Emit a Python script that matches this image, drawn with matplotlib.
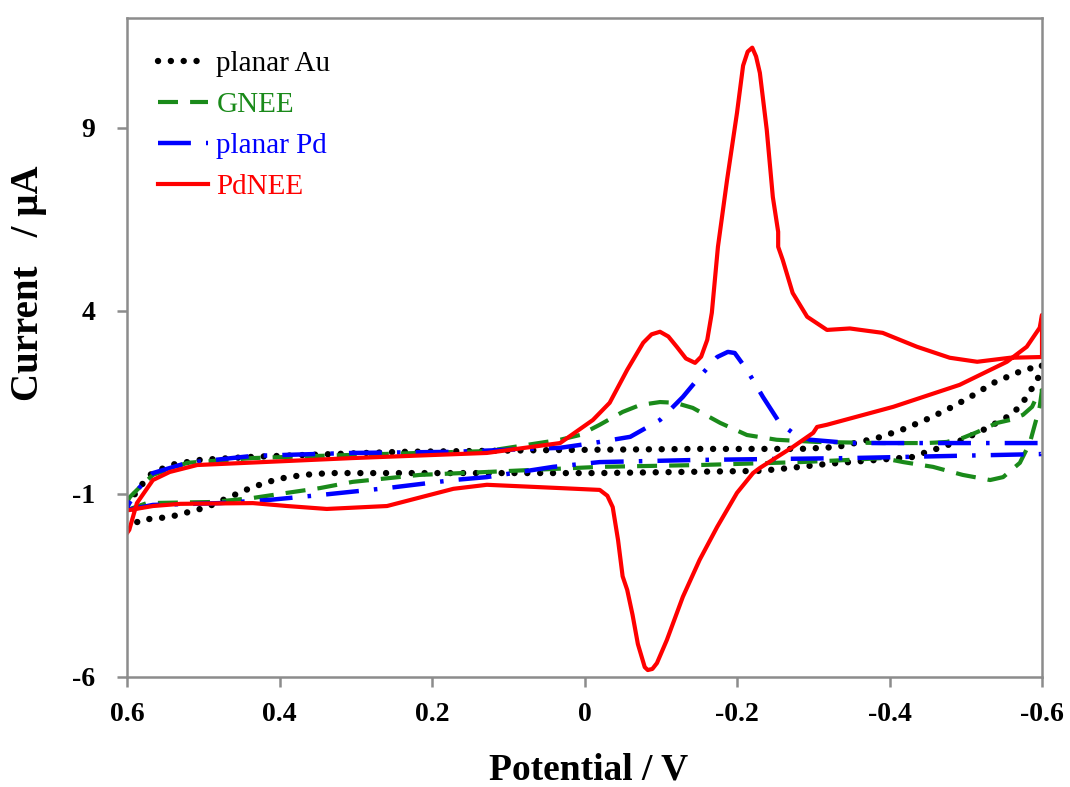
#!/usr/bin/env python3
"""Cyclic voltammograms of planar Au, GNEE, planar Pd and PdNEE electrodes."""

import matplotlib

matplotlib.use("Agg")
import matplotlib.pyplot as plt

# planar Au: cathodic sweep (0.6 -> -0.6 V) then return sweep
AU_V = [0.600, 0.583, 0.544, 0.513, 0.495, 0.465, 0.435, 0.402, 0.369, 0.334, 0.176, -0.020,
        -0.230, -0.270, -0.318, -0.384, -0.431, -0.449, -0.466, -0.496, -0.528, -0.554, -0.571,
        -0.588, -0.597, -0.600,
        -0.580, -0.567, -0.536, -0.506, -0.477, -0.447, -0.416, -0.384, -0.361, -0.331, -0.283,
        -0.151, 0.032, 0.242, 0.373, 0.439, 0.504, 0.544, 0.570, 0.583, 0.600]
AU_I = [-1.98, -1.71, -1.63, -1.46, -1.36, -1.08, -0.81, -0.59, -0.48, -0.43, -0.43, -0.43,
        -0.37, -0.29, -0.18, -0.07, 0.01, 0.15, 0.26, 0.48, 0.80, 1.10, 1.38,
        1.92, 2.25, 2.52,
        2.40, 2.31, 2.03, 1.65, 1.32, 1.02, 0.75, 0.53, 0.42, 0.28, 0.23,
        0.23, 0.20, 0.15, 0.06, 0.01, -0.07, -0.21, -0.48, -0.81, -1.30]

# GNEE
GNEE_V = [0.600, 0.574, 0.487, 0.435, 0.390, 0.347, 0.304, 0.216, 0.128, -0.020, -0.151, -0.283,
          -0.348, -0.391, -0.418, -0.457, -0.496, -0.532, -0.549, -0.571, -0.584, -0.597, -0.600,
          -0.593, -0.587, -0.575, -0.558, -0.541, -0.515, -0.496, -0.475, -0.449, -0.391, -0.305,
          -0.252, -0.213, -0.178, -0.142, -0.119, -0.099, -0.073, -0.050, -0.020, 0.006, 0.032,
          0.128, 0.216, 0.347, 0.435, 0.521, 0.566, 0.583, 0.596, 0.600]
GNEE_I = [-1.44, -1.25, -1.22, -1.11, -0.97, -0.84, -0.67, -0.48, -0.40, -0.26, -0.21, -0.13,
          -0.07, -0.02, -0.13, -0.26, -0.48, -0.62, -0.54, -0.15, 0.39, 1.38, 1.84,
          1.65, 1.38, 1.16, 1.02, 0.94, 0.69, 0.53, 0.42, 0.39, 0.39, 0.42,
          0.48, 0.61, 0.94, 1.35, 1.49, 1.51, 1.43, 1.24, 0.89, 0.61, 0.48,
          0.17, 0.12, 0.04, -0.02, -0.15, -0.48, -0.81, -1.08, -1.22]

# planar Pd
PD_V = [0.600, 0.566, 0.478, 0.412, 0.347, 0.259, 0.172, 0.128, 0.041, -0.020, -0.151, -0.348,
        -0.600,
        -0.600, -0.348, -0.296, -0.273, -0.256, -0.234, -0.213, -0.197, -0.188, -0.174, -0.151,
        -0.129, -0.099, -0.060, -0.011, 0.032, 0.172, 0.304, 0.435, 0.521, 0.566, 0.583, 0.596,
        0.600]
PD_I = [-1.44, -1.30, -1.25, -1.16, -1.03, -0.84, -0.62, -0.54, -0.26, -0.13, -0.07, -0.02,
        0.09,
        0.39, 0.39, 0.48, 0.67, 0.94, 1.65, 2.39, 2.85, 2.88, 2.74, 2.20,
        1.65, 1.02, 0.56, 0.39, 0.26, 0.15, 0.12, 0.04, -0.15, -0.43, -0.81, -1.22,
        -1.36]

# PdNEE
PDNEE_V = [0.600, 0.597, 0.566, 0.530, 0.435, 0.390, 0.338, 0.259, 0.172, 0.128, 0.032, -0.020,
           -0.030, -0.037, -0.044, -0.050, -0.056, -0.063, -0.070, -0.079, -0.083, -0.089, -0.095,
           -0.108, -0.129, -0.151, -0.174, -0.200, -0.221, -0.230, -0.273, -0.300, -0.305, -0.318,
           -0.405, -0.492, -0.554, -0.580, -0.597, -0.600,
           -0.600, -0.558, -0.515, -0.479, -0.436, -0.391, -0.348, -0.318, -0.292, -0.273, -0.260,
           -0.254, -0.254, -0.247, -0.239, -0.230, -0.225, -0.220, -0.214, -0.208, -0.200, -0.187,
           -0.175, -0.167, -0.161, -0.153, -0.145, -0.133, -0.121, -0.110, -0.099, -0.088, -0.077,
           -0.056, -0.033, -0.011, 0.032, 0.128, 0.304, 0.508, 0.544, 0.566, 0.587, 0.597, 0.600]
PDNEE_I = [-1.44, -1.44, -1.33, -1.27, -1.25, -1.33, -1.41, -1.33, -0.86, -0.75, -0.84, -0.89,
           -1.05, -1.36, -2.26, -3.25, -3.62, -4.30, -5.10, -5.73, -5.81, -5.78, -5.62,
           -4.99, -3.81, -2.80, -1.90, -0.97, -0.43, -0.29, 0.28, 0.67, 0.83, 0.89,
           1.38, 1.98, 2.61, 3.02, 3.54, 3.89,
           2.74, 2.72, 2.61, 2.72, 3.02, 3.40, 3.52, 3.48, 3.84, 4.49, 5.39,
           5.75, 6.16, 7.11, 8.95, 10.50, 10.95, 11.19, 11.08, 10.70, 9.41, 7.58,
           5.75, 3.95, 3.21, 2.75, 2.58, 2.70, 3.02, 3.30, 3.43, 3.36, 3.13,
           2.39, 1.49, 1.02, 0.39, 0.12, -0.02, -0.21, -0.40, -0.62, -1.25, -1.98, -2.07]

X_TICKS = [0.6, 0.4, 0.2, 0.0, -0.2, -0.4, -0.6]
X_TICK_LABELS = ["0.6", "0.4", "0.2", "0", "-0.2", "-0.4", "-0.6"]
Y_TICKS = [-6, -1, 4, 9]
Y_TICK_LABELS = ["-6", "-1", "4", "9"]

SERIF = "Liberation Serif"
SPINE = "#8c8c8c"


def main() -> None:
    fig = plt.figure(figsize=(10.7, 7.87), dpi=100)
    ax = fig.add_axes([127 / 1070, 110 / 787, 915 / 1070, 659 / 787])

    ax.plot(AU_V, AU_I, color="black", lw=4.6, linestyle=(0, (0.01, 2.0)),
            dash_capstyle="round", label="planar Au")
    ax.plot(GNEE_V, GNEE_I, color="#1a8a1a", lw=3.0, linestyle=(0, (4.8, 2.9)),
            label="GNEE")
    ax.plot(PD_V, PD_I, color="#0000ff", lw=3.2, linestyle=(0, (7.4, 3.4, 0.8, 3.4)),
            label="planar Pd")
    ax.plot(PDNEE_V, PDNEE_I, color="#ff0000", lw=3.0, solid_joinstyle="round",
            label="PdNEE")

    ax.set_xlim(0.6, -0.6)
    ax.set_ylim(-6, 12)
    tick_font = {"fontfamily": SERIF, "fontweight": "bold", "fontsize": 20}
    ax.set_xticks(X_TICKS)
    ax.set_xticklabels(X_TICK_LABELS, **tick_font)
    ax.set_yticks(Y_TICKS)
    ax.set_yticklabels(Y_TICK_LABELS, **tick_font)

    for spine in ax.spines.values():
        spine.set_color(SPINE)
        spine.set_linewidth(1.8)
    ax.tick_params(axis="both", direction="out", length=7, width=1.8, color=SPINE)
    ax.tick_params(axis="x", pad=11)
    ax.tick_params(axis="y", pad=16)

    ax.set_xlabel("Potential / V", fontfamily=SERIF, fontweight="bold", fontsize=27)
    ax.set_ylabel("Current   / \u00b5A", fontfamily=SERIF, fontweight="bold", fontsize=28)
    ax.xaxis.set_label_coords(0.504, -0.114)
    ax.yaxis.set_label_coords(-0.087, 0.598)

    leg = ax.legend(loc="upper left", bbox_to_anchor=(0.034, 0.95), frameon=False,
                    borderpad=0, borderaxespad=0, handlelength=1.7, handletextpad=0.3,
                    labelspacing=0.5, prop={"family": SERIF, "size": 21})
    for text, line in zip(leg.get_texts(), leg.get_lines()):
        text.set_color(line.get_color())

    fig.savefig("out.png", dpi=100)
    plt.close(fig)


if __name__ == "__main__":
    main()
